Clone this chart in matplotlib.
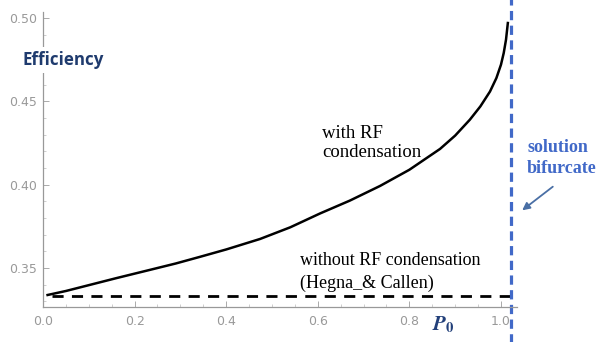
import matplotlib
matplotlib.use("Agg")
import matplotlib.pyplot as plt
from matplotlib.ticker import MultipleLocator

# data
p0 = [0.01, 0.05, 0.10, 0.16, 0.234, 0.29, 0.343, 0.40, 0.474, 0.54, 0.605,
      0.67, 0.736, 0.80, 0.867, 0.90, 0.932, 0.955, 0.976, 0.99, 1.000,
      1.006, 1.011, 1.015]
eff_rf = [0.3339, 0.3363, 0.3398, 0.3440, 0.3490, 0.3528, 0.3568, 0.3612,
          0.3675, 0.3745, 0.3828, 0.3905, 0.3993, 0.4090, 0.4215, 0.4295,
          0.4390, 0.4470, 0.4559, 0.4640, 0.4720, 0.4790, 0.4870, 0.4970]
hc_x = [0.02, 1.02]
hc_eff = [1/3, 1/3]
bifurcation_x = 1.021

x_ticks = [0.0, 0.2, 0.4, 0.6, 0.8, 1.0]
y_ticks = [0.35, 0.40, 0.45, 0.50]

fig = plt.figure(figsize=(5.99, 3.42), dpi=100)
ax = fig.add_axes([43/599, 1-307/342, (517-43)/599, (307-12)/342])

ax.plot(p0, eff_rf, color='black', lw=1.8, solid_joinstyle='round')
ax.plot(hc_x, hc_eff, color='black', lw=2.0, dashes=(4, 3))
ax.axvline(bifurcation_x, ymin=-0.2, ymax=1.2, color='#4169c8', lw=2.3,
           dashes=(2.9, 1.7), clip_on=False)

ax.set_xlim(0, 1.035)
ax.set_ylim(0.3267, 0.5036)
ax.set_xticks(x_ticks)
ax.set_yticks(y_ticks)
ax.set_xticklabels([f"{v:.1f}" for v in x_ticks])
ax.set_yticklabels([f"{v:.2f}" for v in y_ticks])
ax.xaxis.set_minor_locator(MultipleLocator(0.05))
ax.yaxis.set_minor_locator(MultipleLocator(0.01))
for s in ['top', 'right']:
    ax.spines[s].set_visible(False)
for s in ['left', 'bottom']:
    ax.spines[s].set_color('#999999')
    ax.spines[s].set_linewidth(0.9)
ax.tick_params(which='major', direction='in', length=4, width=0.7,
               color='#aaaaaa', labelsize=9, labelcolor='#999999')
ax.tick_params(axis='x', which='major', pad=5.5)
ax.tick_params(axis='y', which='major', pad=4)
ax.tick_params(which='minor', direction='in', length=2, width=0.5,
               color='#bbbbbb')

fig.text(23/599, 1-60/342, 'Efficiency', fontsize=12.2, fontweight='bold',
         color='#1f3b6e', family='Open Sans', va='center', ha='left',
         bbox=dict(facecolor='white', edgecolor='none', pad=3))
fig.text(322/599, 1-143/342, 'with RF\ncondensation', fontsize=13.5,
         family='Liberation Serif', va='center', ha='left', linespacing=1.15)
fig.text(300/599, 1-272/342, 'without RF condensation\n(Hegna_& Callen)',
         fontsize=13, family='Liberation Serif', va='center', ha='left',
         linespacing=1.45)
fig.text(432/599, 1-325/342, r'$\boldsymbol{P}_{\mathbf{0}}$', fontsize=15,
         color='#23407a', va='center', ha='left', math_fontfamily='stix')
fig.text(527/599, 1-158/342, 'solution\nbifurcate', fontsize=13,
         fontweight='bold', color='#4169c8', family='Liberation Serif',
         va='center', ha='left', linespacing=1.3)
fig.add_artist(matplotlib.patches.FancyArrowPatch(
    (555/599, 1-185/342), (520/599, 1-212/342), transform=fig.transFigure,
    arrowstyle='-|>', mutation_scale=11, color='#4a6fa5', lw=1.3))

fig.savefig('out.png', dpi=100)
